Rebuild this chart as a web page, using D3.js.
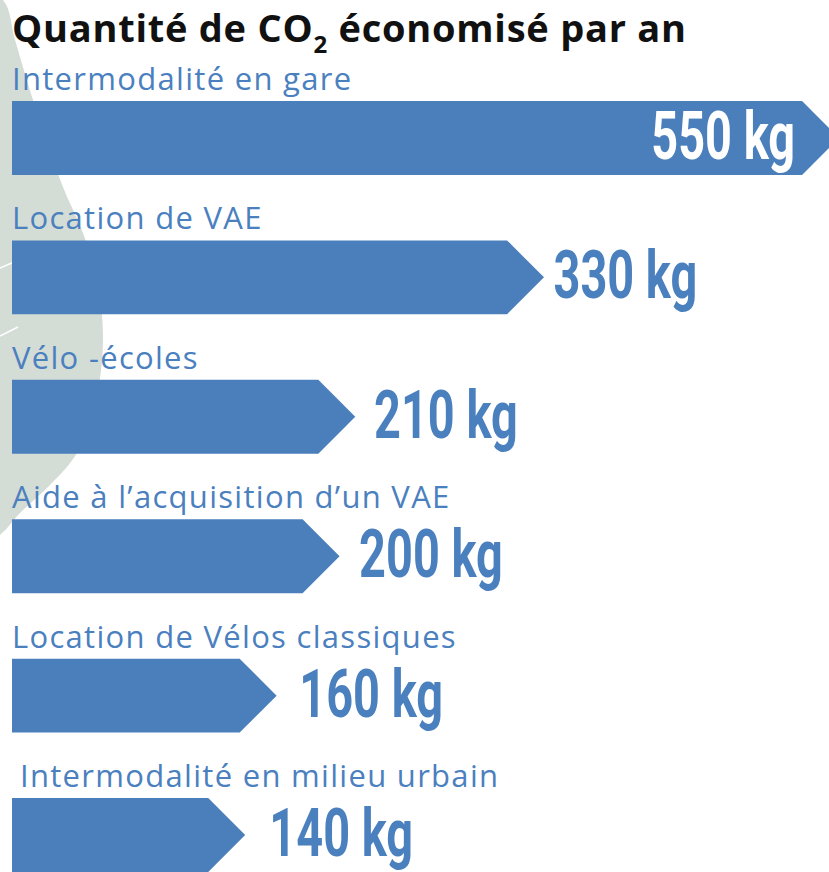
<!DOCTYPE html>
<html>
<head>
<meta charset="utf-8">
<script src="https://cdn.jsdelivr.net/npm/d3@7"></script>
<style>
  html, body { margin: 0; padding: 0; background: #ffffff; }
  svg { display: block; }
</style>
</head>
<body>
<div id="chart"></div>
<script>
// ---- data ----
const categories = [
  "Intermodalité en gare",
  "Location de VAE",
  "Vélo -écoles",
  "Aide à l’acquisition d’un VAE",
  "Location de Vélos classiques",
  "Intermodalité en milieu urbain"
];
const values = [550, 330, 210, 200, 160, 140];
const valueLabels = ["550 kg", "330 kg", "210 kg", "200 kg", "160 kg", "140 kg"];
const titleMain = "Quantité de CO";
const titleSub = "2";
const titleRest = " économisé par an";

// ---- layout ----
const W = 829, H = 872;
const left = 12;
const blue = "#4a7fbc";
const textBlue = "#4b80bf";

const svg = d3.select("#chart").append("svg")
  .attr("width", W).attr("height", H);

// decorative background disc on the left
const discPts = [[-40,-20],[3,0],[15,40],[33,100],[63,187],[83,233],[97,280],[103,340],[95,405],[77,453],[50,485],[20,513],[0,535],[-40,560]];
svg.append("path")
  .attr("d", d3.line().curve(d3.curveCatmullRom)(discPts) + "L-60,560L-60,-20Z")
  .attr("fill", "#d4dcd6");
svg.append("line").attr("x1",0).attr("y1",268).attr("x2",14).attr("y2",262)
  .attr("stroke","#fff").attr("stroke-width",1.5);
svg.append("line").attr("x1",0).attr("y1",336).attr("x2",18).attr("y2",327)
  .attr("stroke","#fff").attr("stroke-width",1.5);

// scales
const y = d3.scaleBand()
  .domain(categories)
  .range([101, 872])
  .paddingInner(0.47)
  .paddingOuter(0);

const x = d3.scaleLinear()
  .domain([0, 330, 550])
  .range([left + 13, left + 532, 839]);

// position of the value label that sits beyond the arrow tip
const xLabel = d3.scaleLinear()
  .domain([0, 330])
  .range([60, 553.5]);

const bh = y.bandwidth();
const tipDepth = bh / 2;

// title
const title = svg.append("text")
  .attr("x", left).attr("y", 42)
  .attr("font-family", "'Open Sans', sans-serif")
  .attr("font-weight", 700)
  .attr("font-size", 38)
  .attr("letter-spacing", 0.75)
  .attr("fill", "#111");
title.append("tspan").text(titleMain);
title.append("tspan").attr("font-size", 24).attr("dy", 11).text(titleSub);
title.append("tspan").attr("dy", -11).text(titleRest);

const rows = svg.append("g").selectAll("g")
  .data(categories.map((c, i) => ({ c, v: values[i], lab: valueLabels[i], i })))
  .join("g");

// category labels
rows.append("text")
  .attr("x", d => d.i === 5 ? left + 8 : left)
  .attr("y", d => y(d.c) - 11)
  .attr("font-family", "'Open Sans', sans-serif")
  .attr("font-size", 31)
  .attr("letter-spacing", 1.3)
  .attr("fill", textBlue)
  .text(d => d.c);

// arrow bars
rows.append("path")
  .attr("d", d => {
    const t = y(d.c), b = t + bh, m = t + bh / 2;
    const tip = x(d.v);
    return `M${left},${t}H${tip - tipDepth}L${tip},${m}L${tip - tipDepth},${b}H${left}Z`;
  })
  .attr("fill", blue);

// value labels (condensed bold)
const sx = 0.7;
rows.append("g")
  .attr("transform", d => {
    const m = y(d.c) + bh / 2 + 21;
    const px = d.i === 0 ? x(d.v) - tipDepth - 7 : xLabel(d.v);
    return `translate(${px},${m}) scale(${sx},1)`;
  })
  .append("text")
  .attr("text-anchor", d => d.i === 0 ? "end" : "start")
  .attr("font-family", "Roboto, sans-serif")
  .attr("font-weight", 700)
  .attr("font-size", 67)
  .attr("fill", d => d.i === 0 ? "#ffffff" : textBlue)
  .text(d => d.lab);
</script>
</body>
</html>
